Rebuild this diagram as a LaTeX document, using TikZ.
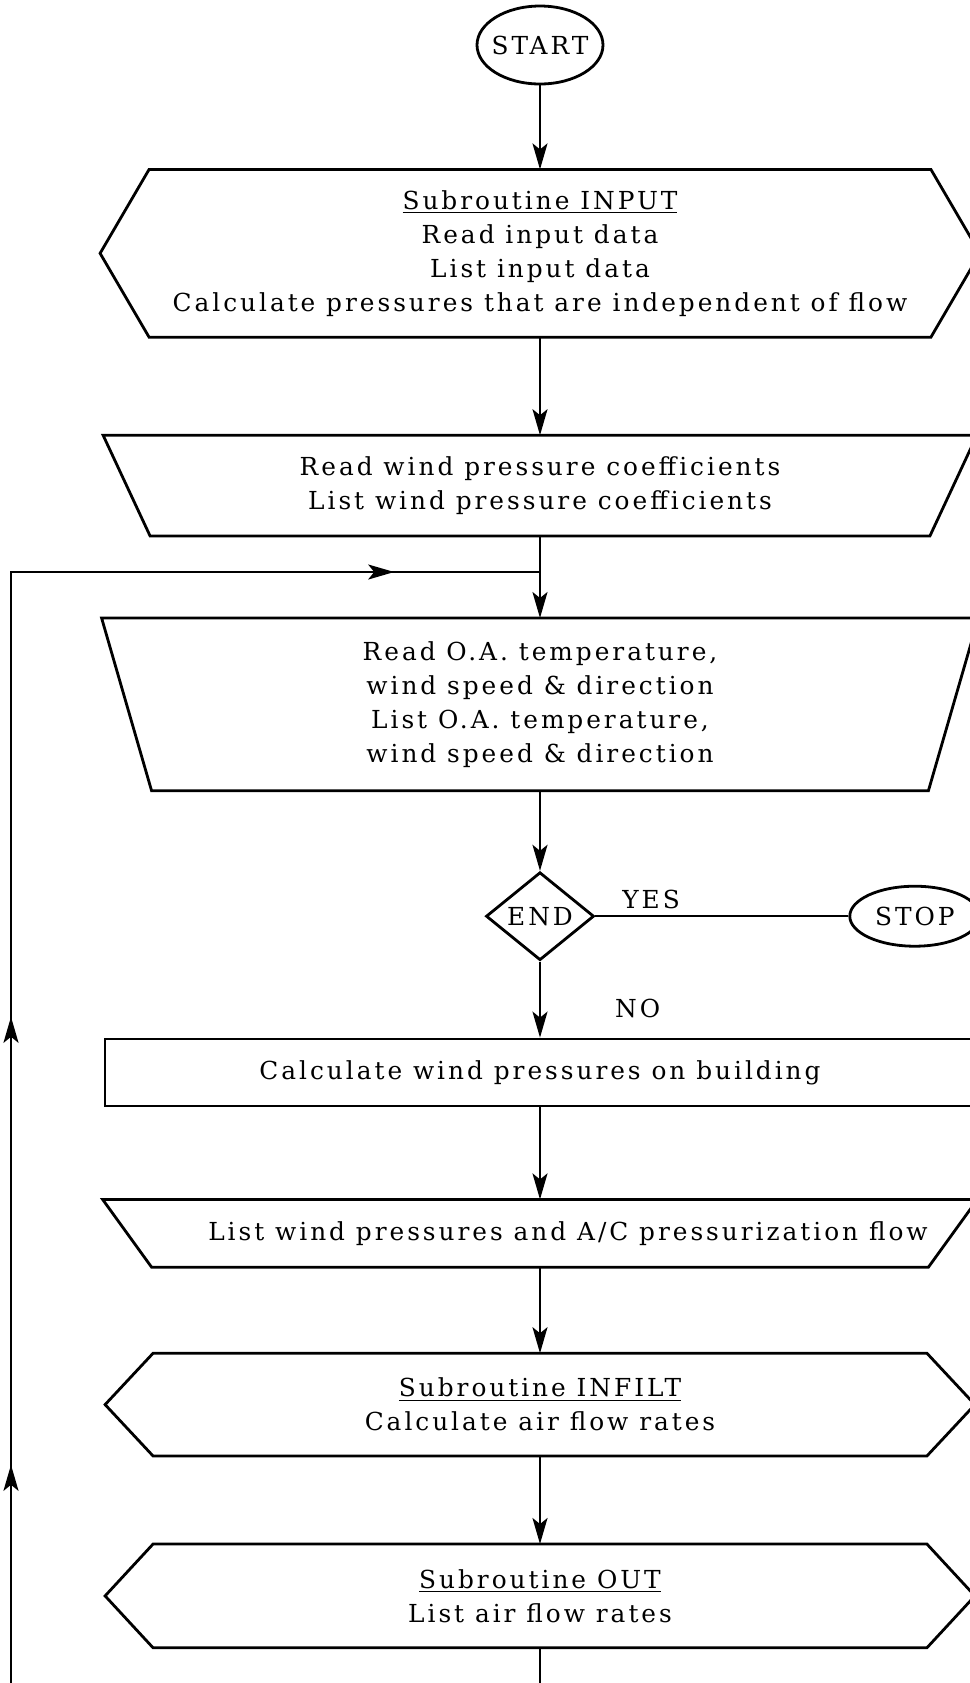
\documentclass[tikz,border=0pt]{standalone}
\usepackage{fontspec}
\setmainfont{DejaVu Serif}[LetterSpace=12]
\usetikzlibrary{positioning, arrows.meta, shapes.geometric, decorations.markings}
\tikzset{
  base/.style={font=\fontsize{12.4}{17}\selectfont, align=center, inner sep=0pt},
  terminal/.style={base, draw, ellipse, line width=1.4pt, minimum width=65pt, minimum height=30pt},
  decision/.style={base, draw, diamond, line width=1.4pt, minimum width=54pt, minimum height=44pt},
  procbox/.style={base, draw, line width=1.4pt, minimum width=435pt, minimum height=33.5pt},
  subbox/.style={base},
  iobox/.style={base},
  frame/.style={line width=1.4pt, line join=miter},
  flow/.style={line width=1.1pt},
  loopline/.style={flow, postaction={decorate},
    decoration={markings,
      mark=at position 398pt with {\arrow{>}},
      mark=at position 622pt with {\arrow{>}},
      mark=at position 1036pt with {\arrow{>}}}},
  >={Stealth[length=13pt, width=7.5pt, inset=3pt]},
}
% outlines around the text nodes
\newcommand{\hexframe}[2]{\draw[frame] (#1.north west) -- (#1.north east) -- ([xshift=#2]#1.east)
  -- (#1.south east) -- (#1.south west) -- ([xshift=-#2]#1.west) -- cycle;}
\newcommand{\ioframe}[2]{\draw[frame] (#1.north west) -- (#1.north east)
  -- ([xshift=-#2]#1.south east) -- ([xshift=#2]#1.south west) -- cycle;}

\begin{document}
\begin{tikzpicture}[x=0.5pt, y=-0.5pt]
  \useasboundingbox (0,0) rectangle (970,1683);
  \clip (0,0) rectangle (970,1683);

  \node[terminal, minimum width=63pt, minimum height=39pt, inner xsep=-2pt] (start) at (540,45) {START};
  \node[subbox, minimum width=390.5pt, minimum height=83.5pt, below=42pt of start] (input)
    {\underline{Subroutine INPUT}\\ Read input data\\ List input data\\ Calculate pressures that are independent of flow};
  \node[iobox, minimum width=436.5pt, minimum height=50pt, below=49pt of input] (coef)
    {Read wind pressure coefficients\\ List wind pressure coefficients};
  \node[iobox, minimum width=438pt, minimum height=86pt, below=41pt of coef] (oa)
    {Read O.A. temperature,\\ wind speed \& direction\\ List O.A. temperature,\\ wind speed \& direction};
  \node[decision, below=40pt of oa] (enddec) {END};
  \node[terminal, right=126.5pt of enddec] (stop) {STOP};
  \node[procbox, below=38pt of enddec] (calc) {Calculate wind pressures on building};
  \node[iobox, minimum width=437pt, minimum height=33.5pt, below=46pt of calc] (lwp) {};
  \node[base] (lwptxt) at ([xshift=14pt]lwp.center) {List wind pressures and A/C pressurization flow};
  \node[subbox, minimum width=386.5pt, minimum height=51pt, below=43pt of lwp] (infilt)
    {\underline{Subroutine INFILT}\\ Calculate air flow rates};
  \node[subbox, minimum width=386.5pt, minimum height=51.5pt, below=44pt of infilt] (out)
    {\underline{Subroutine OUT}\\ List air flow rates};

  \hexframe{input}{24.5pt}
  \ioframe{coef}{23.5pt}
  \ioframe{oa}{25pt}
  \ioframe{lwp}{24.5pt}
  \hexframe{infilt}{24pt}
  \hexframe{out}{24pt}

  \draw[flow, ->] (start) -- (input);
  \draw[flow, ->] (input) -- (coef);
  \draw[flow, ->] (coef) -- (oa);
  \draw[flow, ->] (oa) -- (enddec);
  \draw[flow] (enddec) -- node[base, pos=0.22, above=3pt] (yes) {YES} (stop);
  \draw[flow, ->] (enddec) -- node[base, pos=0.62, right=37pt] (no) {NO} (calc);
  \draw[flow, ->] (calc) -- (lwp);
  \draw[flow, ->] (lwp) -- (infilt);
  \draw[flow, ->] (infilt) -- (out);

  % return loop
  \coordinate (jn) at ([yshift=-18pt]coef.south);
  \coordinate (rb) at ([yshift=-21pt]out.south);
  \coordinate (lx) at (11,0);
  \draw[loopline] (out) -- (rb) -- (lx |- rb) -- (lx |- jn) -- (jn);
\end{tikzpicture}
\end{document}
